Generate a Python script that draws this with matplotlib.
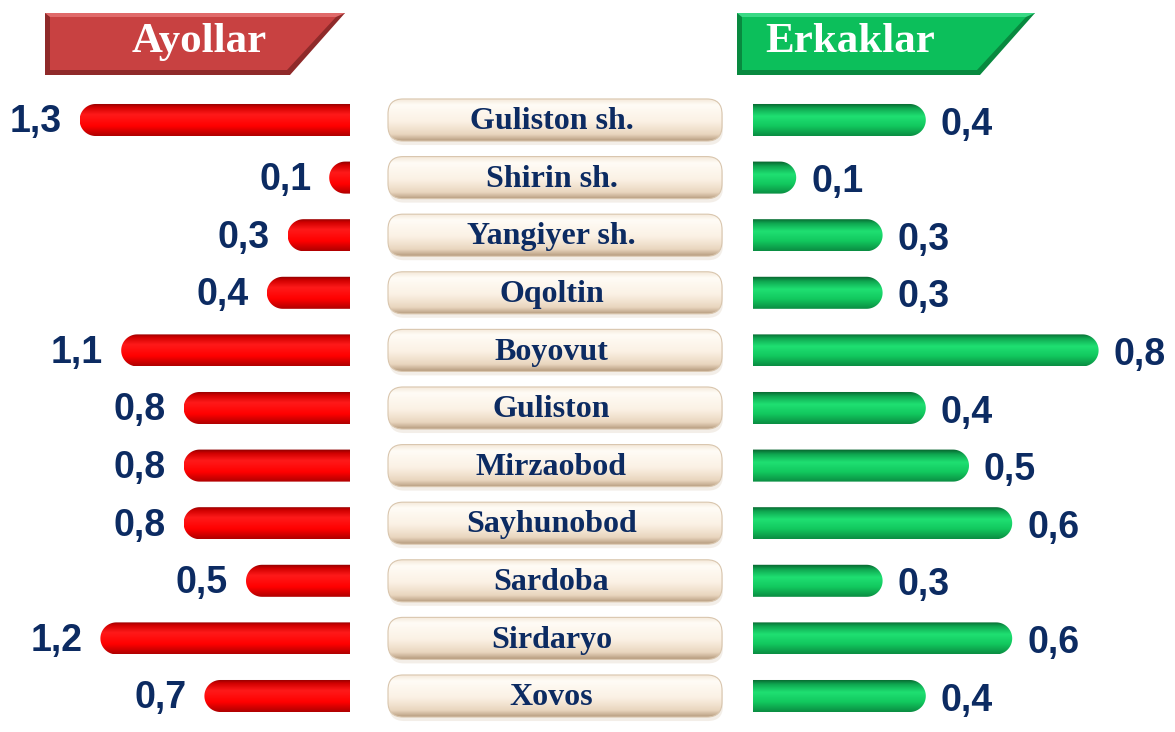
import numpy as np
import matplotlib.pyplot as plt
from matplotlib.patches import FancyBboxPatch, Polygon, PathPatch
from matplotlib.path import Path
from matplotlib.colors import LinearSegmentedColormap
from matplotlib.transforms import IdentityTransform

# data
districts = ["Guliston sh.", "Shirin sh.", "Yangiyer sh.", "Oqoltin", "Boyovut",
             "Guliston", "Mirzaobod", "Sayhunobod", "Sardoba", "Sirdaryo", "Xovos"]
ayollar = [1.3, 0.1, 0.3, 0.4, 1.1, 0.8, 0.8, 0.8, 0.5, 1.2, 0.7]
erkaklar = [0.4, 0.1, 0.3, 0.3, 0.8, 0.4, 0.5, 0.6, 0.3, 0.6, 0.4]
headers = ["Ayollar", "Erkaklar"]

W, H = 1175, 732
NAVY = "#0c2b62"
BAR_H = 0.556  # in row units

red_cmap = LinearSegmentedColormap.from_list(
    "red", [(0, "#8a0000"), (0.12, "#d00000"), (0.35, "#ff1a1a"), (0.7, "#ff0000"), (1, "#b00000")])
green_cmap = LinearSegmentedColormap.from_list(
    "green", [(0, "#075f2d"), (0.15, "#0fa650"), (0.4, "#1fe072"), (0.7, "#12c85e"), (1, "#0a8d42")])
beige_cmap = LinearSegmentedColormap.from_list(
    "beige", [(0, "#f3e6d6"), (0.15, "#fffcf6"), (0.55, "#fbf1e4"), (0.85, "#e9d6bf"), (1, "#b89d80")])

fig = plt.figure(figsize=(W / 100, H / 100), dpi=100)
fig.patch.set_facecolor("white")


def px_axes(x0, x1):
    return fig.add_axes([x0 / W, 0, (x1 - x0) / W, 1])


ax_l = px_axes(0, 350)
ax_c = px_axes(350, 753)
ax_r = px_axes(753, 1175)
lims = {ax_l: (350 / 208, 0), ax_c: (0, 1), ax_r: (0, 422 / 432)}
YLIM = (10.625, -2.0833)


def set_limits():
    for ax, xl in lims.items():
        ax.set_xlim(*xl)
        ax.set_ylim(*YLIM)
        ax.axis("off")


set_limits()


def gradient_fill(ax, patch, x0, x1, y0, y1, cmap):
    grad = np.linspace(0, 1, 64).reshape(-1, 1)
    im = ax.imshow(grad, cmap=cmap, extent=(x0, x1, y1, y0), aspect="auto",
                   origin="upper", interpolation="bicubic", zorder=2)
    im.set_clip_path(patch)


def rounded_bar(ax, i, v, cmap):
    (xa, ya), (xb, yb) = ax.transData.transform([(0, i - BAR_H / 2), (v, i + BAR_H / 2)])
    yc = (ya + yb) / 2
    r = abs(ya - yb) / 2
    s = np.sign(xb - xa)
    rx = min(r, abs(xb - xa))
    cx = xb - s * rx
    t = np.linspace(-np.pi / 2, np.pi / 2, 40)
    pts = [(xa, yc - r), (cx, yc - r)]
    pts += list(zip(cx + s * rx * np.cos(t), yc + r * np.sin(t)))
    pts += [(xa, yc + r), (xa, yc - r)]
    codes = [Path.MOVETO] + [Path.LINETO] * (len(pts) - 2) + [Path.CLOSEPOLY]
    patch = PathPatch(Path(pts, codes), transform=IdentityTransform(),
                      facecolor="none", edgecolor="none", zorder=2)
    ax.add_patch(patch)
    gradient_fill(ax, patch, 0, v, i - BAR_H / 2, i + BAR_H / 2, cmap)


def label(v):
    return f"{v:.1f}".replace(".", ",")


for i, (name, a, e) in enumerate(zip(districts, ayollar, erkaklar)):
    rounded_bar(ax_l, i, a, red_cmap)
    ax_l.text(a + 18 / 208, i + 0.04, label(a), ha="right", va="center",
              family="Liberation Sans", weight="bold", size=27, color=NAVY)
    rounded_bar(ax_r, i, e, green_cmap)
    ax_r.text(e + 15 / 432, i + 0.08, label(e), ha="left", va="center",
              family="Liberation Sans", weight="bold", size=27, color=NAVY)

    # center label box
    (bx0, by0), (bx1, by1) = ax_c.transData.transform([(38 / 403, i + 0.365), (372 / 403, i - 0.365)])
    shadow = FancyBboxPatch((bx0 + 1, by0 - 4), bx1 - bx0, by1 - by0,
                            boxstyle="round,pad=0,rounding_size=15", transform=IdentityTransform(),
                            facecolor="#ece4da", edgecolor="none", alpha=0.6, zorder=1)
    ax_c.add_patch(shadow)
    box = FancyBboxPatch((bx0, by0), bx1 - bx0, by1 - by0,
                         boxstyle="round,pad=0,rounding_size=15", transform=IdentityTransform(),
                         facecolor="none", edgecolor="#d9c6ae", linewidth=0.8, zorder=3)
    ax_c.add_patch(box)
    gradient_fill(ax_c, box, 38 / 403, 372 / 403, i - 0.365, i + 0.365, beige_cmap)
    ax_c.text(0.5, i + 0.03, name, ha="center", va="center", family="Liberation Serif",
              weight="bold", size=23, color=NAVY, zorder=4)

set_limits()

# header banners
banner_specs = [
    (headers[0], [(45, 13), (345, 13), (290, 75), (45, 75)], "#c84141", "#e06a6a", "#8f2a2a", 199),
    (headers[1], [(737, 13), (1035, 13), (980, 75), (737, 75)], "#0cbf5b", "#3ad985", "#08893f", 850),
]
for text, pts, main, light, dark, tx in banner_specs:
    poly = [(x, H - y) for x, y in pts]
    fig.add_artist(Polygon(poly, closed=True, transform=IdentityTransform(),
                           facecolor=dark, edgecolor="none"))
    inner = [(pts[0][0] + 5, pts[0][1] + 4), (pts[1][0] - 9, pts[1][1] + 4),
             (pts[2][0] - 3, pts[2][1] - 5), (pts[3][0] + 5, pts[3][1] - 5)]
    fig.add_artist(Polygon([(x, H - y) for x, y in pts[:2]] + [(x, H - y) for x, y in inner[1::-1]],
                           closed=True, transform=IdentityTransform(), facecolor=light, edgecolor="none"))
    fig.add_artist(Polygon([(x, H - y) for x, y in inner], closed=True,
                           transform=IdentityTransform(), facecolor=main, edgecolor="none"))
    fig.text(tx / W, 1 - 42 / H, text, ha="center", va="center", family="Liberation Serif",
             weight="bold", size=31, color="white")

fig.savefig("out.png", dpi=100, facecolor="white")
